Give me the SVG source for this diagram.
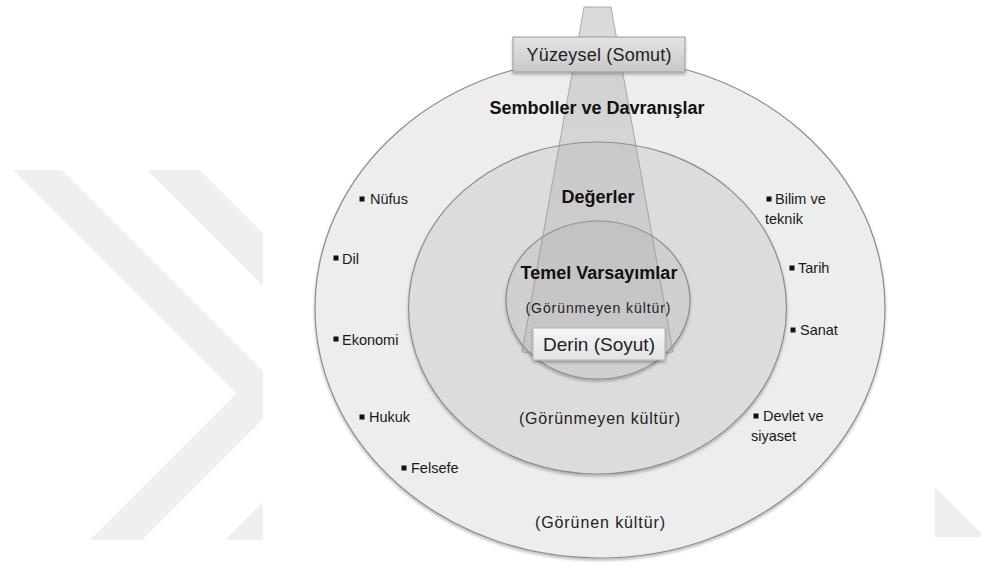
<svg xmlns="http://www.w3.org/2000/svg" width="981" height="563" viewBox="0 0 981 563">
  <defs>
    <clipPath id="clipLeft"><rect x="0" y="0" width="263" height="563"/></clipPath>
    <filter id="shadow" x="-10%" y="-10%" width="120%" height="125%">
      <feDropShadow dx="0" dy="2" stdDeviation="1.8" flood-color="#000" flood-opacity="0.28"/>
    </filter>
    <linearGradient id="funnelGrad" x1="0" y1="0" x2="0" y2="1">
      <stop offset="0" stop-color="#9a9a9a" stop-opacity="0.38"/>
      <stop offset="1" stop-color="#9a9a9a" stop-opacity="0.14"/>
    </linearGradient>
    <linearGradient id="surfGrad" x1="0" y1="0" x2="0" y2="1">
      <stop offset="0" stop-color="#e4e4e4"/>
      <stop offset="1" stop-color="#c8c8c8"/>
    </linearGradient>
    <linearGradient id="deepGrad" x1="0" y1="0" x2="0" y2="1">
      <stop offset="0" stop-color="#f7f7f7"/>
      <stop offset="1" stop-color="#e2e2e2"/>
    </linearGradient>
  </defs>
  <style>
    .wm { fill: #efefef; }
    .ring { stroke: #8c8c8c; stroke-width: 1.2; }
    .title { font-family: "Liberation Sans", Arial, sans-serif; font-weight: bold; font-size: 18px; fill: #111; text-anchor: middle; }
    .sub { font-family: "Liberation Sans", Arial, sans-serif; fill: #222; text-anchor: middle; }
    .item { font-family: "Liberation Sans", Arial, sans-serif; font-size: 14.5px; fill: #1a1a1a; }
    .bullet { fill: #111; }
  </style>
  <rect x="0" y="0" width="981" height="563" fill="#ffffff"/>

  <g id="watermark">
    <g clip-path="url(#clipLeft)">
      <polygon class="wm" points="13,170 62,170 287,395 142,540 90,540 236.5,393.5"/>
      <polygon class="wm" points="147,170 200,170 424,394 278,540 225,540 371,394"/>
    </g>
    <polygon class="wm" points="935,487 981,533 981,537 935,537"/>
  </g>

  <g id="ring-outer">
    <ellipse class="ring" cx="600" cy="308" rx="285" ry="250" fill="#ededed" filter="url(#shadow)"/>
  </g>
  <g id="ring-middle">
    <ellipse class="ring" cx="597.5" cy="308" rx="189" ry="166" fill="#dcdcdc" filter="url(#shadow)"/>
  </g>
  <g id="ring-inner">
    <ellipse class="ring" cx="598" cy="300" rx="92" ry="79" fill="#cfcfcf" filter="url(#shadow)"/>
  </g>

  <g id="funnel">
    <path d="M584,7 L611,7 L673,352 Q598,366 522,352 Z" fill="url(#funnelGrad)" stroke="#8a8a8a" stroke-opacity="0.65" stroke-width="1"/>
  </g>

  <g id="box-surface">
    <rect x="513" y="37" width="172" height="35" fill="url(#surfGrad)" stroke="#9a9a9a" stroke-width="1" filter="url(#shadow)"/>
    <text class="sub" x="599" y="61" font-size="18" fill="#333" textLength="145">Yüzeysel (Somut)</text>
  </g>

  <g id="box-deep">
    <rect x="533" y="328" width="132" height="32" fill="url(#deepGrad)" stroke="#b5b5b5" stroke-width="1" filter="url(#shadow)"/>
    <text class="sub" x="599" y="351" font-size="19" fill="#1e1e1e">Derin (Soyut)</text>
  </g>

  <g id="labels-center">
    <text class="title" x="597" y="114">Semboller ve Davranışlar</text>
    <text class="title" x="598" y="203">Değerler</text>
    <text class="title" x="599" y="279">Temel Varsayımlar</text>
    <text class="sub" x="598" y="313" font-size="14" textLength="145">(Görünmeyen kültür)</text>
    <text class="sub" x="599.5" y="424" font-size="16" textLength="161">(Görünmeyen kültür)</text>
    <text class="sub" x="600" y="528" font-size="16" textLength="130">(Görünen kültür)</text>
  </g>

  <g id="labels-left">
    <rect class="bullet" x="359.5" y="196.5" width="5" height="5"/>
    <text class="item" x="370" y="204">Nüfus</text>
    <rect class="bullet" x="333.5" y="255.5" width="5" height="5"/>
    <text class="item" x="342" y="264">Dil</text>
    <rect class="bullet" x="333.5" y="336.5" width="5" height="5"/>
    <text class="item" x="342" y="345">Ekonomi</text>
    <rect class="bullet" x="359.5" y="414.5" width="5" height="5"/>
    <text class="item" x="369" y="422">Hukuk</text>
    <rect class="bullet" x="401.5" y="465.5" width="5" height="5"/>
    <text class="item" x="411" y="473">Felsefe</text>
  </g>

  <g id="labels-right">
    <rect class="bullet" x="766.5" y="196.5" width="5" height="5"/>
    <text class="item" x="775" y="204">Bilim ve</text>
    <text class="item" x="765" y="224">teknik</text>
    <rect class="bullet" x="789.5" y="265.5" width="5" height="5"/>
    <text class="item" x="798" y="273">Tarih</text>
    <rect class="bullet" x="790.5" y="327.5" width="5" height="5"/>
    <text class="item" x="800" y="335">Sanat</text>
    <rect class="bullet" x="753.5" y="413.5" width="5" height="5"/>
    <text class="item" x="763" y="421">Devlet ve</text>
    <text class="item" x="751" y="441">siyaset</text>
  </g>
</svg>
